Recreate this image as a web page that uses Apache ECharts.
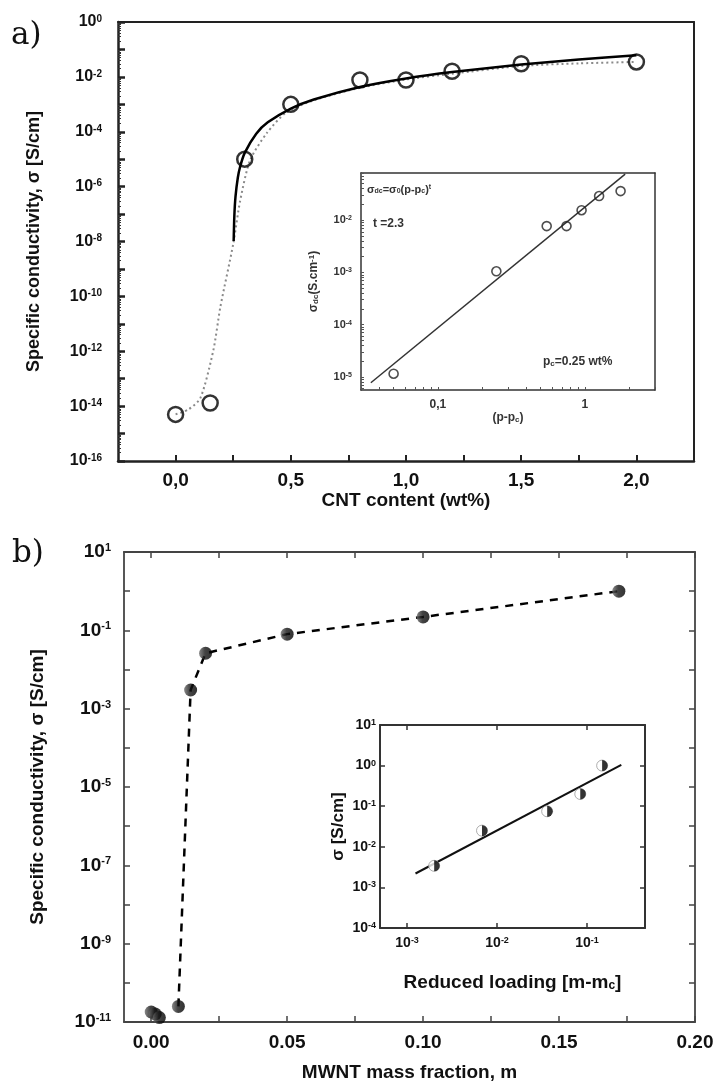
<!DOCTYPE html>
<html>
<head>
<meta charset="utf-8">
<script src="https://cdn.jsdelivr.net/npm/echarts@6/dist/echarts.min.js"></script>
<style>
  html, body { margin: 0; padding: 0; background: #fff; }
  #chart { width: 721px; height: 1090px; }
</style>
</head>
<body>
<div id="chart"></div>
<script>
// ---- panel a: CNT content (wt%) vs conductivity ----
const cntContent = [0, 0.15, 0.3, 0.5, 0.8, 1.0, 1.2, 1.5, 2.0];
const cntSigma = [5e-15, 1.3e-14, 1e-5, 1e-3, 7.7e-3, 7.7e-3, 1.6e-2, 3e-2, 3.5e-2];
// solid percolation curve
const fitAx = [0.252, 0.255, 0.26, 0.27, 0.28, 0.3, 0.35, 0.4, 0.5, 0.6, 0.8, 1.0, 1.2, 1.5, 1.75, 2.0];
const fitAy = [1.05e-8, 8.7e-8, 4.3e-7, 2.1e-6, 5.3e-6, 1.7e-5, 8.5e-5, 2.2e-4, 7e-4, 1.5e-3, 4.3e-3, 8.8e-3, 1.5e-2, 2.8e-2, 4.3e-2, 6.2e-2];
// grey dotted curve
const dotAx = [0, 0.056, 0.108, 0.164, 0.194, 0.25, 0.28, 0.323, 0.396, 0.48, 0.6, 0.8, 1.0, 1.2, 1.5, 1.75, 2.0];
const dotAy = [5e-15, 7.6e-15, 2e-14, 1.1e-12, 4e-11, 8e-9, 3e-7, 9e-6, 9e-5, 5e-4, 1.4e-3, 4e-3, 8e-3, 1.3e-2, 2.5e-2, 3.1e-2, 3.5e-2];
const aXTicks = [0, 0.25, 0.5, 0.75, 1.0, 1.25, 1.5, 1.75, 2.0];
const aXLabels = [0, 0.5, 1.0, 1.5, 2.0];
const aYTicks = [1e-16, 1e-15, 1e-14, 1e-13, 1e-12, 1e-11, 1e-10, 1e-9, 1e-8, 1e-7, 1e-6, 1e-5, 1e-4, 1e-3, 1e-2, 1e-1, 1];
const aYLabels = [1e-16, 1e-14, 1e-12, 1e-10, 1e-8, 1e-6, 1e-4, 1e-2, 1];

// ---- inset a: sigma vs (p - pc) ----
const redP = [0.05, 0.25, 0.55, 0.75, 0.95, 1.25, 1.75];
const redPSigma = [1.15e-5, 1.05e-3, 7.7e-3, 7.7e-3, 1.55e-2, 2.9e-2, 3.6e-2];
const fitIAx = [0.035, 1.88];
const fitIAy = [7.7e-6, 0.076];
const iaXLabels = [0.1, 1];
const iaYTicks = [1e-5, 1e-4, 1e-3, 1e-2];
const iaYLabels = [1e-5, 1e-4, 1e-3, 1e-2];

// ---- panel b: MWNT mass fraction vs conductivity ----
const mwntFrac = [0, 0.0015, 0.003, 0.01, 0.0145, 0.02, 0.05, 0.1, 0.172];
const mwntSigma = [1.8e-11, 1.6e-11, 1.3e-11, 2.5e-11, 3e-3, 2.6e-2, 8e-2, 0.22, 1.0];
const bXTicks = [0, 0.025, 0.05, 0.075, 0.1, 0.125, 0.15, 0.175, 0.2];
const bXLabels = [0, 0.05, 0.1, 0.15, 0.2];
const bYTicks = [1e-11, 1e-10, 1e-9, 1e-8, 1e-7, 1e-6, 1e-5, 1e-4, 1e-3, 1e-2, 1e-1, 1, 10];
const bYLabels = [1e-11, 1e-9, 1e-7, 1e-5, 1e-3, 1e-1, 10];

// ---- inset b: sigma vs reduced loading ----
const redLoad = [0.002, 0.0068, 0.036, 0.084, 0.147];
const redLoadSigma = [3.4e-3, 2.5e-2, 7.5e-2, 0.2, 1.0];
const fitIBx = [1.24e-3, 0.24];
const fitIBy = [2.2e-3, 1.04];
const ibXLabels = [1e-3, 1e-2, 1e-1];
const ibYLabels = [1e-4, 1e-3, 1e-2, 1e-1, 1, 10];

const FONT = '"Liberation Sans", Arial, sans-serif';
const pairs = (xs, ys) => xs.map((x, i) => [x, ys[i]]);

// log minor ticks (2..9 per decade) for the decorative tick rows
function logMinors(decades) {
  const out = [];
  decades.forEach(d => { for (let k = 2; k <= 9; k++) out.push(d * k); });
  return out;
}

function supRich(base, sup, color) {
  return {
    b: { fontSize: base, fontWeight: 'bold', fontFamily: FONT, color: color },
    s: { fontSize: sup, fontWeight: 'bold', fontFamily: FONT, color: color, verticalAlign: 'top' }
  };
}
const pow10 = v => '{b|10}{s|' + Math.round(Math.log10(v)) + '}';

const chart = echarts.init(document.getElementById('chart'));

const line = (color, width) => ({ show: true, onZero: false, lineStyle: { color: color, width: width } });
const lineOnly = (extra) => Object.assign({
  axisLine: line('#222', 2),
  axisTick: { show: false }, axisLabel: { show: false }, splitLine: { show: false }
}, extra);

const option = {
  animation: false,
  backgroundColor: '#fff',
  grid: [
    { left: 118, top: 22, width: 576, height: 439 },
    { left: 361, top: 173, width: 294, height: 217, show: true, backgroundColor: '#fff', borderWidth: 0 },
    { left: 124, top: 552, width: 571, height: 470 },
    { left: 380, top: 725, width: 265, height: 203, show: true, backgroundColor: '#fff', borderWidth: 0 }
  ],
  xAxis: [
    { // 0 a bottom
      gridIndex: 0, type: 'value', min: -0.25, max: 2.25,
      axisLine: line('#222', 2.5),
      axisTick: { inside: true, length: 6, customValues: aXTicks, lineStyle: { color: '#222', width: 2 } },
      axisLabel: { customValues: aXLabels, margin: 10, fontSize: 19, fontWeight: 'bold', fontFamily: FONT, color: '#111',
        formatter: v => v.toFixed(1).replace('.', ',') },
      splitLine: { show: false },
      name: 'CNT content (wt%)', nameLocation: 'middle', nameGap: 29,
      nameTextStyle: { fontSize: 19, fontWeight: 'bold', fontFamily: FONT, color: '#111' }
    },
    lineOnly({ gridIndex: 0, type: 'value', min: -0.25, max: 2.25, position: 'top' }), // 1 a top
    { // 2 inset a bottom
      gridIndex: 1, type: 'log', min: 0.03, max: 3,
      axisLine: line('#333', 1.5),
      axisTick: { inside: true, length: 3, customValues: logMinors([0.01, 0.1, 1]).filter(v => v >= 0.03 && v <= 3).concat([0.1, 1]),
        lineStyle: { color: '#555', width: 1 } },
      axisLabel: { customValues: iaXLabels, margin: 9, fontSize: 12, fontWeight: 'bold', fontFamily: FONT, color: '#333',
        formatter: v => String(v).replace('.', ',') },
      splitLine: { show: false },
      name: '{t|(p-p}{sub|c}{t|)}', nameLocation: 'middle', nameGap: 20,
      nameTextStyle: { rich: {
        t: { fontSize: 12, fontWeight: 'bold', fontFamily: FONT, color: '#333' },
        sub: { fontSize: 8, fontWeight: 'bold', fontFamily: FONT, color: '#333', verticalAlign: 'bottom' } } }
    },
    lineOnly({ gridIndex: 1, type: 'log', min: 0.03, max: 3, position: 'top', axisLine: line('#333', 1.5) }), // 3 inset a top
    { // 4 b bottom
      gridIndex: 2, type: 'value', min: -0.01, max: 0.2,
      axisLine: line('#444', 1.8),
      axisTick: { inside: true, length: 6, customValues: bXTicks, lineStyle: { color: '#444', width: 1.5 } },
      axisLabel: { customValues: bXLabels, margin: 11, fontSize: 19, fontWeight: 'bold', fontFamily: FONT, color: '#111',
        formatter: v => v.toFixed(2) },
      splitLine: { show: false },
      name: 'MWNT mass fraction, m', nameLocation: 'middle', nameGap: 41,
      nameTextStyle: { fontSize: 19, fontWeight: 'bold', fontFamily: FONT, color: '#111' }
    },
    { // 5 b top
      gridIndex: 2, type: 'value', min: -0.01, max: 0.2, position: 'top',
      axisLine: line('#444', 1.8),
      axisTick: { inside: true, length: 6, customValues: bXTicks, lineStyle: { color: '#444', width: 1.5 } },
      axisLabel: { show: false }, splitLine: { show: false }
    },
    { // 6 inset b bottom
      gridIndex: 3, type: 'log', min: 5e-4, max: 0.44,
      axisLine: line('#333', 2),
      axisTick: { inside: true, length: 5, customValues: ibXLabels, lineStyle: { color: '#333', width: 1.5 } },
      axisLabel: { customValues: ibXLabels, margin: 8, rich: supRich(14, 9, '#111'), formatter: pow10 },
      splitLine: { show: false },
      name: '{t|Reduced loading [m-m}{sub|c}{t|]}', nameLocation: 'middle', nameGap: 45,
      nameTextStyle: { rich: {
        t: { fontSize: 19, fontWeight: 'bold', fontFamily: FONT, color: '#111' },
        sub: { fontSize: 12, fontWeight: 'bold', fontFamily: FONT, color: '#111', verticalAlign: 'bottom' } } }
    },
    { // 7 inset b top
      gridIndex: 3, type: 'log', min: 5e-4, max: 0.44, position: 'top',
      axisLine: line('#333', 2),
      axisTick: { inside: true, length: 5, customValues: ibXLabels, lineStyle: { color: '#333', width: 1.5 } },
      axisLabel: { show: false }, splitLine: { show: false }
    }
  ],
  yAxis: [
    { // 0 a left
      gridIndex: 0, type: 'log', min: 1e-16, max: 1,
      axisLine: line('#222', 2.5),
      axisTick: { inside: true, length: 7, customValues: aYTicks, lineStyle: { color: '#222', width: 2.5 } },
      axisLabel: { customValues: aYLabels, margin: 16, rich: supRich(16, 10, '#111'), formatter: pow10 },
      splitLine: { show: false },
      name: 'Specific conductivity, σ [S/cm]', nameLocation: 'middle', nameGap: 75,
      nameTextStyle: { fontSize: 18, fontWeight: 'bold', fontFamily: FONT, color: '#111' }
    },
    lineOnly({ gridIndex: 0, type: 'log', min: 1e-16, max: 1, position: 'right' }), // 1 a right
    { // 2 a left minor ticks
      gridIndex: 0, type: 'log', min: 1e-16, max: 1, position: 'left',
      axisLine: { show: false, onZero: false },
      axisTick: { inside: true, length: 3, customValues: logMinors(aYTicks.slice(0, -1)), lineStyle: { color: '#333', width: 1 } },
      axisLabel: { show: false }, splitLine: { show: false }
    },
    { // 3 inset a left
      gridIndex: 1, type: 'log', min: 5.6e-6, max: 0.08,
      axisLine: line('#333', 1.5),
      axisTick: { inside: true, length: 3, customValues: logMinors([1e-6, 1e-5, 1e-4, 1e-3, 1e-2]).filter(v => v >= 5.6e-6 && v <= 0.08).concat(iaYTicks),
        lineStyle: { color: '#555', width: 1 } },
      axisLabel: { customValues: iaYLabels, margin: 9, rich: supRich(11, 7, '#333'), formatter: pow10 },
      splitLine: { show: false },
      name: '{t|σ}{sub|dc}{t|(S.cm}{sup|-1}{t|)}', nameLocation: 'middle', nameGap: 41,
      nameTextStyle: { rich: {
        t: { fontSize: 12, fontWeight: 'bold', fontFamily: FONT, color: '#333' },
        sub: { fontSize: 8, fontWeight: 'bold', fontFamily: FONT, color: '#333', verticalAlign: 'bottom' },
        sup: { fontSize: 8, fontWeight: 'bold', fontFamily: FONT, color: '#333', verticalAlign: 'top' } } }
    },
    lineOnly({ gridIndex: 1, type: 'log', min: 5.6e-6, max: 0.08, position: 'right', axisLine: line('#333', 1.5) }), // 4 inset a right
    { // 5 b left
      gridIndex: 2, type: 'log', min: 1e-11, max: 10,
      axisLine: line('#444', 1.8),
      axisTick: { inside: true, length: 6, customValues: bYTicks, lineStyle: { color: '#444', width: 1.5 } },
      axisLabel: { customValues: bYLabels, margin: 13, rich: supRich(19, 11, '#111'), formatter: pow10 },
      splitLine: { show: false },
      name: 'Specific conductivity, σ [S/cm]', nameLocation: 'middle', nameGap: 77,
      nameTextStyle: { fontSize: 19, fontWeight: 'bold', fontFamily: FONT, color: '#111' }
    },
    { // 6 b right
      gridIndex: 2, type: 'log', min: 1e-11, max: 10, position: 'right',
      axisLine: line('#444', 1.8),
      axisTick: { inside: true, length: 6, customValues: bYTicks, lineStyle: { color: '#444', width: 1.5 } },
      axisLabel: { show: false }, splitLine: { show: false }
    },
    { // 7 inset b left
      gridIndex: 3, type: 'log', min: 1e-4, max: 10,
      axisLine: line('#333', 2),
      axisTick: { inside: true, length: 5, customValues: ibYLabels, lineStyle: { color: '#333', width: 1.5 } },
      axisLabel: { customValues: ibYLabels, margin: 4, rich: supRich(14, 9, '#111'), formatter: pow10 },
      splitLine: { show: false },
      name: 'σ [S/cm]', nameLocation: 'middle', nameGap: 33,
      nameTextStyle: { fontSize: 17, fontWeight: 'bold', fontFamily: FONT, color: '#111' }
    },
    { // 8 inset b right
      gridIndex: 3, type: 'log', min: 1e-4, max: 10, position: 'right',
      axisLine: line('#333', 2),
      axisTick: { inside: true, length: 5, customValues: ibYLabels, lineStyle: { color: '#333', width: 1.5 } },
      axisLabel: { show: false }, splitLine: { show: false }
    }
  ],
  graphic: [
    { type: 'text', left: 11, top: 20, style: { text: 'a)', font: '31px "DejaVu Serif"', fill: '#111' } },
    { type: 'text', left: 12, top: 538, style: { text: 'b)', font: '31px "DejaVu Serif"', fill: '#111' } },
    { type: 'text', left: 367, top: 184, style: {
        text: '{t|σ}{sub|dc}{t|=σ}{sub|0}{t|(p-p}{sub|c}{t|)}{sup|t}',
        rich: {
          t: { fontSize: 11, fontWeight: 'bold', fontFamily: FONT, fill: '#333' },
          sub: { fontSize: 7, fontWeight: 'bold', fontFamily: FONT, fill: '#333', verticalAlign: 'bottom' },
          sup: { fontSize: 7, fontWeight: 'bold', fontFamily: FONT, fill: '#333', verticalAlign: 'top' }
        } } },
    { type: 'text', left: 373, top: 218, style: { text: 't =2.3', font: 'bold 12px ' + FONT, fill: '#333' } },
    { type: 'text', left: 543, top: 356, style: {
        text: '{t|p}{sub|c}{t|=0.25 wt%}',
        rich: {
          t: { fontSize: 12, fontWeight: 'bold', fontFamily: FONT, fill: '#333' },
          sub: { fontSize: 8, fontWeight: 'bold', fontFamily: FONT, fill: '#333', verticalAlign: 'bottom' }
        } } }
  ],
  series: [
    { type: 'line', xAxisIndex: 0, yAxisIndex: 0, data: pairs(dotAx, dotAy), showSymbol: false, smooth: 0.25,
      lineStyle: { color: '#8a8a8a', width: 2, type: [2, 3] }, z: 2 },
    { type: 'line', xAxisIndex: 0, yAxisIndex: 0, data: pairs(fitAx, fitAy), showSymbol: false, smooth: 0.25,
      lineStyle: { color: '#000', width: 2.5 }, z: 3 },
    { type: 'scatter', xAxisIndex: 0, yAxisIndex: 0, data: pairs(cntContent, cntSigma), symbol: 'circle', symbolSize: 15,
      itemStyle: { color: 'rgba(0,0,0,0)', borderColor: '#000', borderWidth: 2.5 }, z: 4 },

    { type: 'line', xAxisIndex: 2, yAxisIndex: 3, data: pairs(fitIAx, fitIAy), showSymbol: false,
      lineStyle: { color: '#333', width: 1.5 }, z: 5 },
    { type: 'scatter', xAxisIndex: 2, yAxisIndex: 3, data: pairs(redP, redPSigma), symbol: 'circle', symbolSize: 9,
      itemStyle: { color: 'rgba(0,0,0,0)', borderColor: '#222', borderWidth: 1.6 }, z: 6 },

    { type: 'line', xAxisIndex: 4, yAxisIndex: 5, data: pairs(mwntFrac.slice(3), mwntSigma.slice(3)), showSymbol: false,
      lineStyle: { color: '#000', width: 2.5, type: [8, 7] }, z: 2 },
    { type: 'scatter', xAxisIndex: 4, yAxisIndex: 5, data: pairs(mwntFrac, mwntSigma), symbol: 'circle', symbolSize: 13,
      itemStyle: { color: new echarts.graphic.LinearGradient(0, 0, 1, 0, [
        { offset: 0, color: '#6a6a6a' }, { offset: 0.45, color: '#151515' }, { offset: 1, color: '#000' }]) }, z: 3 },

    { type: 'line', xAxisIndex: 6, yAxisIndex: 7, data: pairs(fitIBx, fitIBy), showSymbol: false,
      lineStyle: { color: '#111', width: 2 }, z: 5 },
    { type: 'scatter', xAxisIndex: 6, yAxisIndex: 7, data: pairs(redLoad, redLoadSigma), symbol: 'circle', symbolSize: 11,
      itemStyle: { color: '#fff', borderColor: '#999', borderWidth: 1 }, z: 6 },
    { type: 'scatter', xAxisIndex: 6, yAxisIndex: 7, data: pairs(redLoad, redLoadSigma),
      symbol: 'path://M0,0 A10,10 0 0 1 0,20 Z', symbolSize: [5.5, 11], symbolOffset: [2.75, 0],
      itemStyle: { color: '#000' }, z: 7 }
  ]
};

chart.setOption(option);
window.addEventListener('resize', () => chart.resize());
</script>
</body>
</html>
